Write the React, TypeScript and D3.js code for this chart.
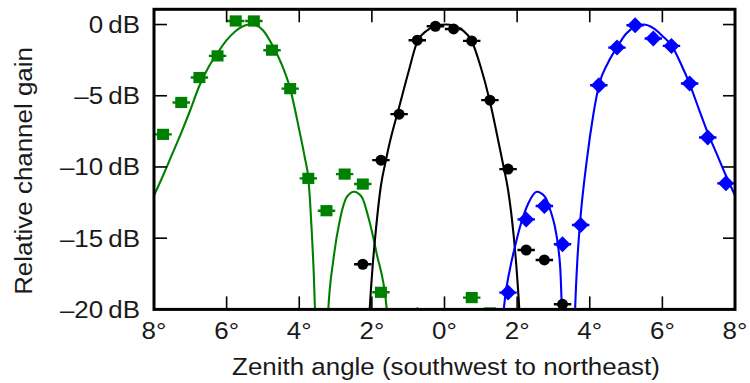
import React from "react";
import * as d3 from "d3";

// ---- Data ----
const xTickValues = [-8, -6, -4, -2, 0, 2, 4, 6, 8];
const xTickLabels = ["8°", "6°", "4°", "2°", "0°", "2°", "4°", "6°", "8°"];
const yTickValues = [0, -5, -10, -15, -20];
const yTickLabels = ["0\u2009dB", "\u20135\u2009dB", "\u201310\u2009dB", "\u201315\u2009dB", "\u201320\u2009dB"];

// fitted curves, one array pair per lobe
const greenMainX = [-8.0, -7.75, -7.5, -7.25, -7.0, -6.75, -6.5, -6.25, -6.0, -5.75, -5.5, -5.36, -5.2, -5.0, -4.75, -4.5, -4.25, -4.0, -3.85, -3.75, -3.7, -3.65, -3.6, -3.56, -3.5];
const greenMainY = [-12.0, -10.6, -9.1, -7.6, -6.0, -4.3, -3.0, -2.0, -1.1, -0.45, -0.07, 0, -0.05, -0.4, -1.4, -2.7, -4.5, -7.4, -9.3, -10.8, -12.5, -14.8, -17.5, -20.5, -26];
const greenSideX = [-3.3, -3.2, -3.06, -2.88, -2.69, -2.49, -2.28, -2.1, -1.87, -1.59, -1.5];
const greenSideY = [-26, -20, -16.5, -13.7, -12.1, -11.74, -12.1, -13.5, -16.06, -20, -23];
const blackMainX = [-2.2, -2.06, -1.98, -1.9, -1.75, -1.62, -1.5, -1.25, -1.0, -0.75, -0.5, -0.25, 0.05, 0.25, 0.5, 0.75, 1.0, 1.25, 1.5, 1.62, 1.75, 1.9, 1.98, 2.06, 2.2];
const blackMainY = [-28, -20, -17, -14.7, -11.3, -9.6, -8.2, -5.8, -3.4, -1.2, -0.45, -0.1, 0, -0.08, -0.4, -1.15, -3.0, -5.4, -8.4, -9.9, -11.6, -14.7, -17, -20, -28];
const blueSideX = [1.55, 1.64, 1.8, 1.95, 2.08, 2.31, 2.54, 2.77, 2.91, 3.04, 3.13, 3.2, 3.23, 3.3];
const blueSideY = [-23, -19.8, -17.2, -15.5, -14.2, -12.55, -11.74, -12.1, -13.0, -14.2, -15.6, -17.7, -19.8, -27];
const blueMainX = [3.53, 3.6, 3.66, 3.73, 3.92, 4.1, 4.26, 4.5, 4.75, 5.0, 5.25, 5.48, 5.75, 6.0, 6.26, 6.5, 6.74, 7.0, 7.25, 7.5, 7.75, 8.0];
const blueMainY = [-27, -19.8, -16.5, -14.0, -9.5, -6.3, -4.2, -2.7, -1.6, -0.65, -0.15, 0, -0.25, -0.8, -1.5, -2.7, -4.1, -5.9, -7.6, -9.1, -10.6, -12.0];

// measurements
const greenPtX = [-7.75, -7.25, -6.75, -6.25, -5.75, -5.25, -4.75, -4.25, -3.75, -3.25, -2.75, -2.25, -1.75, 0.75, 1.25];
const greenPtY = [-7.71, -5.47, -3.72, -2.2, 0.25, 0.25, -1.8, -4.5, -10.8, -13.07, -10.5, -11.2, -18.8, -19.17, -20.25];
const blackPtX = [-2.25, -1.75, -1.25, -0.75, -0.25, 0.25, 0.75, 1.25, 1.75, 2.25, 2.75, 3.25];
const blackPtY = [-16.83, -9.52, -6.29, -1.1, -0.12, -0.31, -1.15, -5.31, -10.15, -15.83, -16.53, -19.64];
const bluePtX = [-0.75, 1.75, 2.25, 2.75, 3.25, 3.75, 4.25, 4.75, 5.25, 5.75, 6.25, 6.75, 7.25, 7.75];
const bluePtY = [-20.4, -18.82, -13.68, -12.74, -15.43, -14.07, -4.26, -1.62, -0.05, -0.98, -1.5, -4.14, -7.93, -11.15];
const errHalf = 0.24;

const W = 750, H = 383;
const L = 154, R = 735, T = 9.3, B = 309.4;

const GREEN = "#008000";
const BLUE = "#0000ff";
const BLACK = "#000000";
const FONT = "'Liberation Sans', Arial, Helvetica, sans-serif";
const FS = 24;
const SX = 1.08;

function Txt(props: { x: number; y: number; anchor: string; rotate?: number; children: React.ReactNode }) {
  const { x, y, anchor, rotate = 0, children } = props;
  return (
    <g transform={`translate(${x},${y}) rotate(${rotate}) scale(${SX},1)`}>
      <text x={0} y={0} textAnchor={anchor} fontSize={FS} fill="#1a1a1a">
        {children}
      </text>
    </g>
  );
}

export default function App() {
  const x = d3.scaleLinear().domain([-8, 8]).range([L, R]);
  const y = d3.scaleLinear().domain([-20, 1.07]).range([B, T]);
  const line = d3
    .line<[number, number]>()
    .x((d) => x(d[0]))
    .y((d) => y(d[1]))
    .curve(d3.curveMonotoneX);
  const zip = (a: number[], b: number[]) => a.map((v, i) => [v, b[i]] as [number, number]);

  const curves = [
    { xs: greenMainX, ys: greenMainY, c: GREEN },
    { xs: greenSideX, ys: greenSideY, c: GREEN },
    { xs: blackMainX, ys: blackMainY, c: BLACK },
    { xs: blueSideX, ys: blueSideY, c: BLUE },
    { xs: blueMainX, ys: blueMainY, c: BLUE },
  ];

  const errBar = (xv: number, yv: number, c: string) => (
    <line x1={x(xv - errHalf)} x2={x(xv + errHalf)} y1={y(yv)} y2={y(yv)} stroke={c} strokeWidth={2.4} />
  );

  return (
    <svg width={W} height={H} style={{ position: "absolute", left: 0, top: 0, background: "#fff" }} fontFamily={FONT}>
      <defs>
        <clipPath id="plotClip">
          <rect x={L} y={T} width={R - L} height={B - T} />
        </clipPath>
      </defs>
      <rect x={0} y={0} width={W} height={H} fill="#fff" />
      <g clipPath="url(#plotClip)">
        {curves.map((cv, i) => (
          <path key={i} d={line(zip(cv.xs, cv.ys)) || ""} fill="none" stroke={cv.c} strokeWidth={2.1} />
        ))}
        {greenPtX.map((xv, i) => (
          <g key={"g" + i}>
            {errBar(xv, greenPtY[i], GREEN)}
            <rect x={x(xv) - 6} y={y(greenPtY[i]) - 5.6} width={12} height={11.2} fill={GREEN} />
          </g>
        ))}
        {blackPtX.map((xv, i) => (
          <g key={"k" + i}>
            {errBar(xv, blackPtY[i], BLACK)}
            <circle cx={x(xv)} cy={y(blackPtY[i])} r={5.5} fill={BLACK} />
          </g>
        ))}
        {bluePtX.map((xv, i) => {
          const cx = x(xv), cy = y(bluePtY[i]), s = 8;
          return (
            <g key={"b" + i}>
              {errBar(xv, bluePtY[i], BLUE)}
              <path d={`M${cx},${cy - s}L${cx + s},${cy}L${cx},${cy + s}L${cx - s},${cy}Z`} fill={BLUE} />
            </g>
          );
        })}
      </g>
      {/* ticks */}
      {xTickValues.slice(1, -1).map((v) => (
        <g key={"xt" + v}>
          <line x1={x(v)} x2={x(v)} y1={T} y2={T + 13} stroke="#000" strokeWidth={1.6} />
          <line x1={x(v)} x2={x(v)} y1={B} y2={B - 13} stroke="#000" strokeWidth={1.6} />
        </g>
      ))}
      {yTickValues.slice(0, -1).map((v) => (
        <g key={"yt" + v}>
          <line x1={L} x2={L + 13} y1={y(v)} y2={y(v)} stroke="#000" strokeWidth={1.6} />
          <line x1={R} x2={R - 12} y1={y(v)} y2={y(v)} stroke="#000" strokeWidth={1.6} />
        </g>
      ))}
      <rect x={L} y={T} width={R - L} height={B - T} fill="none" stroke="#000" strokeWidth={3} />
      {/* tick labels */}
      {xTickValues.map((v, i) => (
        <Txt key={"xl" + i} x={x(v)} y={339} anchor="middle">
          {xTickLabels[i]}
        </Txt>
      ))}
      {yTickValues.map((v, i) => (
        <Txt key={"yl" + i} x={140} y={y(v) + 8.5} anchor="end">
          {yTickLabels[i]}
        </Txt>
      ))}
      <Txt x={446} y={375} anchor="middle">
        Zenith angle (southwest to northeast)
      </Txt>
      <Txt x={32} y={171} anchor="middle" rotate={-90}>
        Relative channel gain
      </Txt>
    </svg>
  );
}
